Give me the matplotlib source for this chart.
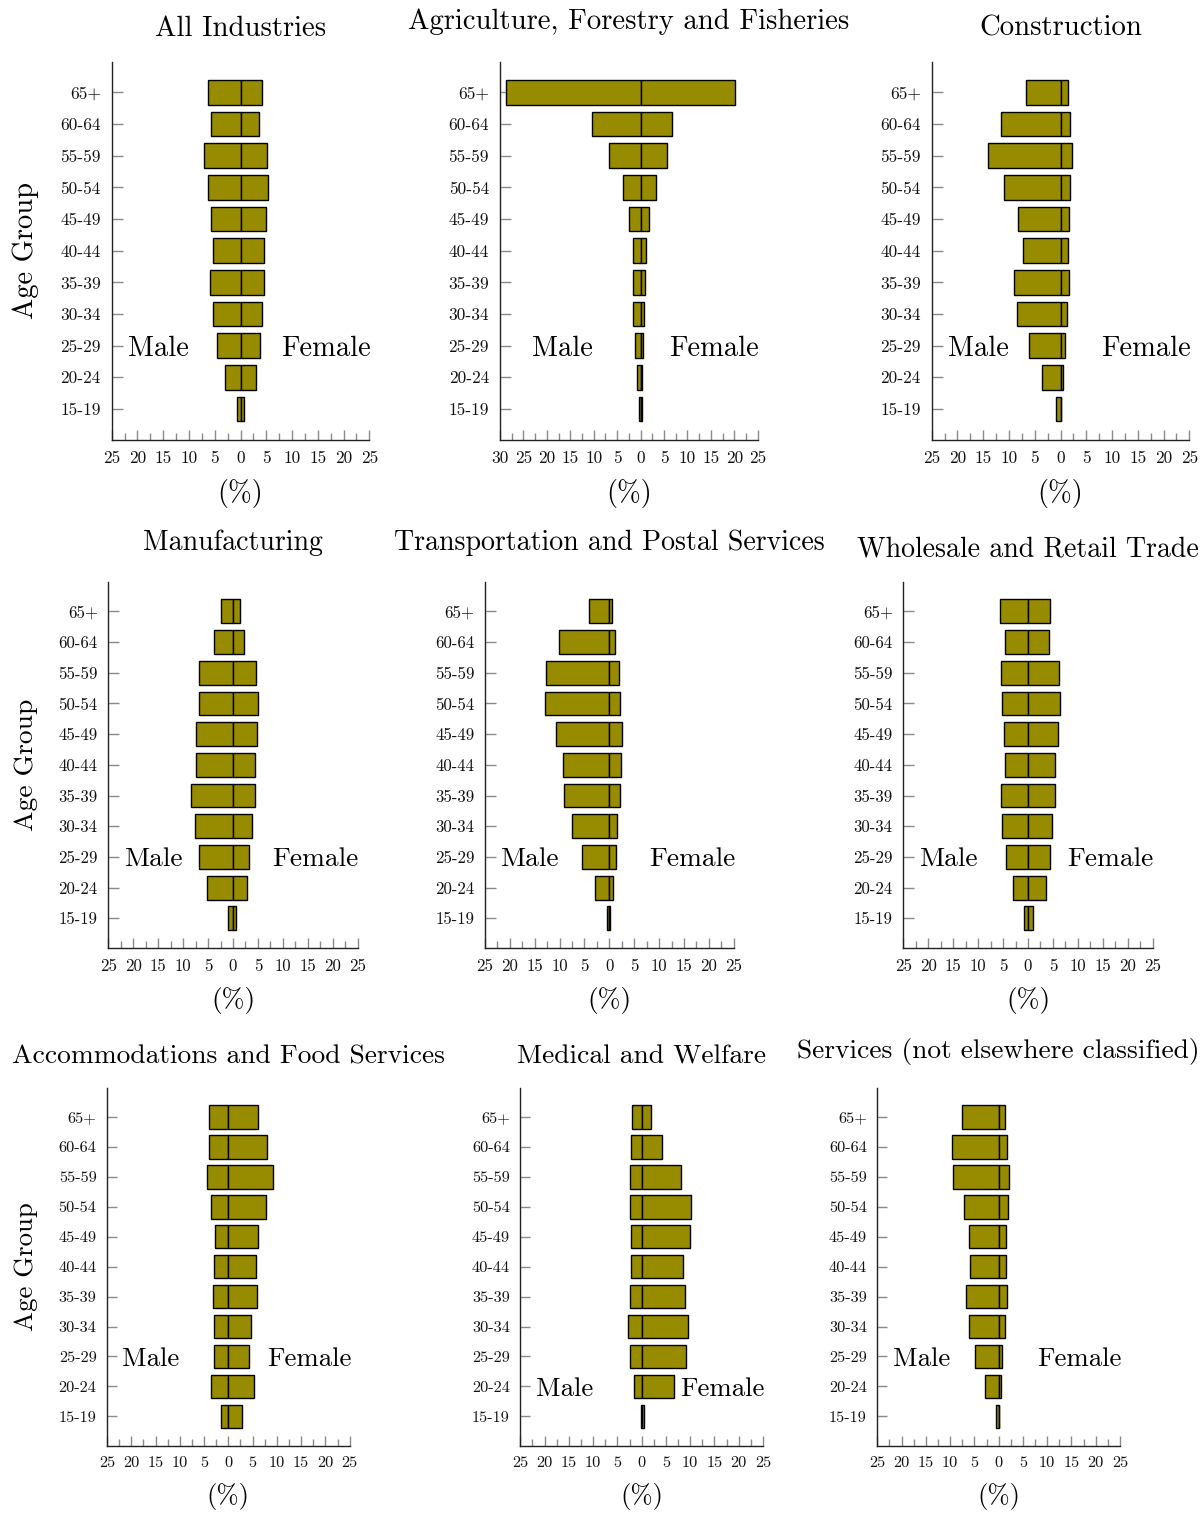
import matplotlib
matplotlib.use("Agg")
import matplotlib.pyplot as plt
import matplotlib.transforms as mtransforms
from matplotlib.ticker import MultipleLocator, FuncFormatter

plt.rcParams["font.family"] = ["cmr10", "DejaVu Serif"]
plt.rcParams["axes.unicode_minus"] = False
plt.rcParams["mathtext.fontset"] = "cm"

# ---------------------------------------------------------------- data
age_groups = ["15-19", "20-24", "25-29", "30-34", "35-39", "40-44",
              "45-49", "50-54", "55-59", "60-64", "65+"]

titles = [
    "All Industries",
    "Agriculture, Forestry and Fisheries",
    "Construction",
    "Manufacturing",
    "Transportation and Postal Services",
    "Wholesale and Retail Trade",
    "Accommodations and Food Services",
    "Medical and Welfare",
    "Services (not elsewhere classified)",
]

# share of workers (%) by age group, youngest first
male_all = [0.65, 3.10, 4.52, 5.43, 6.01, 5.37, 5.82, 6.40, 7.05, 5.69, 6.27]
female_all = [0.65, 2.97, 3.75, 4.14, 4.59, 4.52, 5.04, 5.37, 5.24, 3.62, 4.27]

male_agri = [0.28, 0.85, 1.28, 1.71, 1.64, 1.64, 2.56, 3.84, 6.76, 10.38, 28.66]
female_agri = [0.21, 0.28, 0.50, 0.71, 0.92, 1.14, 1.78, 3.34, 5.62, 6.69, 20.13]

male_constr = [0.91, 3.50, 6.02, 8.35, 8.94, 7.19, 8.16, 11.01, 14.12, 11.46, 6.67]
female_constr = [0.10, 0.45, 0.84, 1.23, 1.68, 1.49, 1.62, 1.88, 2.20, 1.81, 1.36]

male_manuf = [1.00, 5.15, 6.75, 7.69, 8.36, 7.35, 7.49, 6.75, 6.75, 3.88, 2.47]
female_manuf = [0.60, 2.81, 3.21, 3.74, 4.41, 4.41, 4.88, 5.01, 4.68, 2.21, 1.40]

male_transp = [0.40, 2.82, 5.43, 7.44, 9.18, 9.25, 10.66, 12.94, 12.67, 10.05, 4.09]
female_transp = [0.13, 0.80, 1.27, 1.47, 2.14, 2.28, 2.48, 2.14, 1.88, 1.07, 0.54]

male_trade = [0.74, 2.94, 4.48, 5.15, 5.41, 4.55, 4.81, 5.21, 5.41, 4.55, 5.68]
female_trade = [1.00, 3.54, 4.34, 4.75, 5.35, 5.48, 6.08, 6.48, 6.28, 4.14, 4.34]

male_accom = [1.51, 3.50, 2.95, 2.95, 3.09, 2.88, 2.68, 3.50, 4.33, 3.91, 3.91]
female_accom = [2.75, 5.22, 4.33, 4.74, 5.84, 5.63, 6.04, 7.69, 9.13, 8.04, 6.11]

male_medical = [0.14, 1.64, 2.47, 2.88, 2.47, 2.12, 2.26, 2.40, 2.40, 2.12, 2.05]
female_medical = [0.55, 6.58, 9.18, 9.45, 8.90, 8.49, 9.93, 10.07, 8.08, 4.18, 1.92]

male_services = [0.62, 2.82, 4.81, 6.18, 6.66, 5.91, 6.04, 7.21, 9.41, 9.55, 7.62]
female_services = [0.14, 0.41, 0.76, 1.24, 1.65, 1.51, 1.58, 1.85, 2.20, 1.79, 1.37]

males = [male_all, male_agri, male_constr, male_manuf, male_transp,
         male_trade, male_accom, male_medical, male_services]
females = [female_all, female_agri, female_constr, female_manuf, female_transp,
           female_trade, female_accom, female_medical, female_services]

# ---------------------------------------------------------------- layout
W, H = 1204, 1513
fig = plt.figure(figsize=(W / 100, H / 100), dpi=100)
fig.patch.set_facecolor("white")

# axes boxes in pixels: left, right, top, bottom
boxes = [
    (111.7, 369.3, 61.7, 440.0), (500.0, 757.7, 61.7, 440.0), (931.7, 1189.3, 61.7, 440.0),
    (108.3, 357.7, 581.7, 948.3), (485.0, 733.7, 581.7, 948.3), (903.3, 1152.7, 581.7, 948.3),
    (107.0, 349.7, 1088.0, 1445.7), (520.3, 763.0, 1088.0, 1445.7), (877.3, 1120.0, 1088.0, 1445.7),
]
xlabel_gap = [54, 54, 54, 52, 52, 52, 50.5, 50.5, 50.5]
x_limits = [(-25, 25), (-30, 25), (-25, 25), (-25, 25), (-25, 25),
            (-25, 25), (-25, 25), (-25, 25), (-25, 25)]
male_label_x = [0.181, 0.242, 0.180, 0.181, 0.180, 0.180, 0.180, 0.181, 0.181]
female_label_x = [0.832] * 9
sex_label_row = [2, 2, 2, 2, 2, 2, 2, 1, 2]

# each row of panels is drawn at a slightly different scale
title_sizes = [20.7, 20.1, 19.8]
row_scale = [1.0, 0.965, 0.94]

bar_color = "#978b00"
tick_grey = "#8a8a8a"
big = 20.5
small = 12.5

ypos = list(range(len(age_groups)))
descenders = set("gjpqy,()")

for i in range(9):
    row = i // 3
    k = row_scale[row]
    l, r, t, b = boxes[i]
    ax = fig.add_axes([l / W, 1 - b / H, (r - l) / W, (b - t) / H])
    ax.set_axisbelow(True)

    ax.barh(ypos, [-v for v in males[i]], height=0.78, left=0,
            color=bar_color, edgecolor="black", linewidth=1.0)
    ax.barh(ypos, females[i], height=0.78, left=0,
            color=bar_color, edgecolor="black", linewidth=1.0)

    ax.set_xlim(*x_limits[i])
    ax.set_ylim(-0.98, 10.97)

    for s in ("top", "right"):
        ax.spines[s].set_visible(False)
    for s in ("left", "bottom"):
        ax.spines[s].set_color("#222222")
        ax.spines[s].set_linewidth(1.0)

    ax.set_yticks(ypos)
    ax.set_yticklabels(age_groups)
    ax.xaxis.set_major_locator(MultipleLocator(5))
    ax.xaxis.set_minor_locator(MultipleLocator(2.5))
    ax.xaxis.set_major_formatter(FuncFormatter(lambda v, p: f"{abs(int(round(v)))}"))
    ax.tick_params(axis="y", direction="in", length=7.9 * k, width=1.0,
                   color=tick_grey, labelsize=small * k, pad=7.9 * k,
                   labelcolor="#111111")
    ax.tick_params(axis="x", which="major", direction="in", length=7.5 * k, width=1.0,
                   color=tick_grey, labelsize=small * k, pad=8.0 * k,
                   labelcolor="#111111")
    ax.tick_params(axis="x", which="minor", direction="in", length=5.3 * k, width=1.0,
                   color=tick_grey)

    blend = mtransforms.blended_transform_factory(ax.transAxes, ax.transData)
    ax.text(male_label_x[i], sex_label_row[i], "Male", transform=blend,
            ha="center", va="center_baseline", fontsize=big * k)
    ax.text(female_label_x[i], sex_label_row[i], "Female", transform=blend,
            ha="center", va="center_baseline", fontsize=big * k)

    cx = (l + r) / 2
    # titles sit on their text box bottom, so deep glyphs lift the baseline
    base = t - 25.7 * k - (6.7 * k if any(c in descenders for c in titles[i]) else 0)
    fig.text(cx / W, 1 - base / H, titles[i], ha="center", va="baseline",
             fontsize=title_sizes[row])
    fig.text(cx / W, 1 - (b + xlabel_gap[i]) / H, "(%)", ha="center", va="center",
             fontsize=big * k)

    if i % 3 == 0:
        fig.text(26 / W, 1 - ((t + b) / 2) / H, "Age Group", rotation=90,
                 ha="center", va="center", fontsize=big * k)

fig.savefig("out.png", dpi=100, facecolor="white")
